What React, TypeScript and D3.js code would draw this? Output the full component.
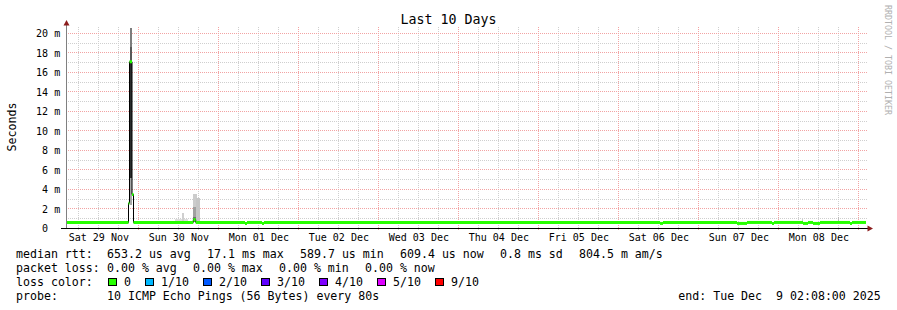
import React from "react";
import * as d3 from "d3";

const W = 897;
const H = 310;

const titleText = "Last 10 Days";
const yAxisTitle = "Seconds";
const watermark = "RRDTOOL / TOBI OETIKER";
const startTime = "2025-11-29T02:08:00Z";
const endTime = "2025-12-09T02:08:00Z";

// y ticks in ms
const yTicks = [0, 2, 4, 6, 8, 10, 12, 14, 16, 18, 20];
const yMinor = [1, 3, 5, 7, 9, 11, 13, 15, 17, 19];

// median rtt step series (ms)
const medianTimes = [
  "2025-11-29T02:08Z", "2025-11-29T20:53Z", "2025-11-29T21:11Z", "2025-11-29T21:56Z", "2025-11-29T22:23Z",
  "2025-11-30T16:19Z", "2025-11-30T17:03Z",
  "2025-12-01T07:50Z", "2025-12-01T08:26Z", "2025-12-01T12:56Z", "2025-12-01T13:32Z",
  "2025-12-06T12:20Z", "2025-12-06T13:14Z",
  "2025-12-07T11:26Z", "2025-12-07T14:26Z", "2025-12-07T21:56Z", "2025-12-07T22:32Z",
  "2025-12-08T07:14Z", "2025-12-08T08:44Z", "2025-12-08T10:14Z", "2025-12-08T12:20Z",
  "2025-12-08T21:20Z", "2025-12-08T21:56Z", "2025-12-09T02:08Z",
];
const medianMs = [
  0.62, 2.6, 17.1, 3.5, 0.62,
  0.9, 0.62,
  0.52, 0.62, 0.52, 0.62,
  0.52, 0.62,
  0.52, 0.62, 0.52, 0.62,
  0.52, 0.62, 0.52, 0.62,
  0.52, 0.62, 0.62,
];

// smoke bands: [from, to, low ms, high ms, shade]
const smokeBands: [string, string, number, number, string][] = [
  ["2025-11-29T20:53Z", "2025-11-29T21:11Z", 2.6, 4.0, "#bdbdbd"],
  ["2025-11-29T21:11Z", "2025-11-29T21:56Z", 18.6, 20.6, "#7d7d7d"],
  ["2025-11-29T21:11Z", "2025-11-29T21:56Z", 17.1, 18.6, "#595959"],
  ["2025-11-29T21:11Z", "2025-11-29T21:56Z", 5.2, 17.1, "#2c2c2c"],
  ["2025-11-29T21:11Z", "2025-11-29T21:56Z", 2.4, 5.2, "#a8a8a8"],
  ["2025-11-30T10:50Z", "2025-11-30T14:44Z", 0.62, 1.0, "#dddddd"],
  ["2025-11-30T12:51Z", "2025-11-30T13:27Z", 0.62, 1.6, "#cfcfcf"],
  ["2025-11-30T16:19Z", "2025-11-30T17:26Z", 0.7, 3.5, "#cccccc"],
  ["2025-11-30T17:03Z", "2025-11-30T18:15Z", 0.7, 3.1, "#c6c6c6"],
  ["2025-11-30T16:19Z", "2025-11-30T17:03Z", 1.2, 2.2, "#a0a0a0"],
  ["2025-11-30T16:19Z", "2025-11-30T17:03Z", 0.7, 1.2, "#707070"],
  ["2025-12-06T04:50Z", "2025-12-06T05:08Z", 0.62, 0.8, "#cccccc"],
  ["2025-12-08T06:51Z", "2025-12-08T07:09Z", 0.62, 1.0, "#cccccc"],
  ["2025-12-08T17:44Z", "2025-12-08T18:02Z", 0.62, 1.2, "#bbbbbb"],
];

const rttLabel = "median rtt:";
const rttStats = ["653.2 us avg", "17.1 ms max", "589.7 us min", "609.4 us now", "0.8 ms sd", "804.5 m am/s"];
const lossLabel = "packet loss:";
const lossStats = ["0.00 % avg", "0.00 % max", "0.00 % min", "0.00 % now"];
const lossColorLabel = "loss color:";
const lossLabels = ["0", "1/10", "2/10", "3/10", "4/10", "5/10", "9/10"];
const lossColors = ["#26ff00", "#00b8ff", "#0059ff", "#5e00ff", "#7e00ff", "#dd00ff", "#ff0000"];
const probeLabel = "probe:";
const probeText = "10 ICMP Echo Pings (56 Bytes) every 80s";
const endText = "end: Tue Dec  9 02:08:00 2025";

const MONO = "'DejaVu Sans Mono', monospace";
const CH = 7; // legend char advance

export default function App() {
  const start = new Date(startTime);
  const end = new Date(endTime);
  const x = d3.scaleUtc().domain([start, end]).range([66, 866]);
  const y = d3.scaleLinear().domain([0, 20.6]).range([228.5, 27.65]);

  const gx = (d: Date) => Math.floor(x(d)) + 0.5;
  const gy = (v: number) => Math.floor(y(v) - 0.1) + 0.5;

  const sixHours = d3.utcHour.every(6)!.range(start, end);
  const minorX = sixHours.filter((d) => d.getUTCHours() !== 0);
  const majorX = d3.utcDay.range(start, end);
  const labelDays = d3.utcDay
    .range(d3.utcDay.floor(start), end)
    .map((d) => d3.utcHour.offset(d, 12))
    .filter((d) => d > start && d < end);
  const fmt = d3.utcFormat("%a %d %b");

  const pts: [Date, number][] = medianTimes.map((t, i) => [new Date(t), medianMs[i]]);
  const stepLine = d3
    .line<[Date, number]>()
    .x((d) => x(d[0]))
    .y((d) => y(d[1]))
    .curve(d3.curveStepAfter);

  const plotL = 66;
  const plotR = 868;
  const gridTop = 27;
  const gridBot = 231;

  // legend positions
  const valX0 = 16 + 13 * CH;
  const rttXs: number[] = [];
  {
    let cx = valX0;
    rttStats.forEach((s) => {
      rttXs.push(cx);
      cx += s.length * CH + 16;
    });
  }
  const lossXs: number[] = [];
  {
    let cx = valX0;
    lossStats.forEach((s) => {
      lossXs.push(cx);
      cx += s.length * CH + 16;
    });
  }
  const colXs: number[] = [];
  {
    let cx = valX0;
    lossLabels.forEach((s) => {
      colXs.push(cx);
      cx += 17 + s.length * CH + 13;
    });
  }

  return (
    <svg
      width={W}
      height={H}
      viewBox={`0 0 ${W} ${H}`}
      style={{ position: "absolute", left: 0, top: 0, background: "#fff", display: "block" }}
      fontFamily={MONO}
    >
      <rect x={0} y={0} width={W} height={H} fill="#ffffff" />

      {/* grid */}
      <g shapeRendering="crispEdges" strokeWidth={1} strokeDasharray="1,1">
        {yMinor.map((v) => (
          <line key={"hm" + v} x1={plotL} x2={plotR} y1={gy(v)} y2={gy(v)} stroke="#cfcfcf" />
        ))}
        {minorX.map((d, i) => (
          <line key={"vm" + i} x1={gx(d)} x2={gx(d)} y1={gridTop} y2={gridBot} stroke="#cfcfcf" />
        ))}
        {yTicks.filter((v) => v > 0).map((v) => (
          <line key={"hM" + v} x1={plotL} x2={plotR} y1={gy(v)} y2={gy(v)} stroke="#f2a3a3" />
        ))}
        {majorX.map((d, i) => (
          <line key={"vM" + i} x1={gx(d)} x2={gx(d)} y1={gridTop} y2={gridBot} stroke="#f2a3a3" />
        ))}
      </g>

      {/* smoke */}
      <g shapeRendering="crispEdges">
        {smokeBands.map(([a, b, lo, hi, c], i) => (
          <rect
            key={"s" + i}
            x={x(new Date(a))}
            width={x(new Date(b)) - x(new Date(a))}
            y={y(hi)}
            height={y(lo) - y(hi)}
            fill={c}
          />
        ))}
      </g>

      {/* median */}
      <path d={stepLine(pts) || ""} fill="none" stroke="#000" strokeWidth={1} />
      <g>
        {pts.slice(0, -1).map((p, i) => (
          <line
            key={"g" + i}
            x1={x(p[0])}
            x2={x(pts[i + 1][0])}
            y1={y(p[1])}
            y2={y(p[1])}
            stroke={lossColors[0]}
            strokeWidth={3}
          />
        ))}
      </g>

      {/* axes */}
      <line x1={66.5} x2={66.5} y1={24} y2={228.5} stroke="#808080" strokeWidth={1} shapeRendering="crispEdges" />
      <line x1={61} x2={869} y1={228.5} y2={228.5} stroke="#000" strokeWidth={1} shapeRendering="crispEdges" />
      <polygon points="63.5,25.5 66.5,20 69.5,25.5" fill="#8b1c1c" />
      <polygon points="867.5,225.5 873,228.5 867.5,231.5" fill="#8b1c1c" />

      {/* y tick labels */}
      <g fontSize={10} fill="#000">
        {yTicks.map((v) => (
          <g key={"yl" + v}>
            <text x={48} y={y(v) + 3.6} textAnchor="end">
              {v}
            </text>
            {v > 0 && (
              <text x={54.2} y={y(v) + 3.6}>
                m
              </text>
            )}
          </g>
        ))}
      </g>

      {/* x labels */}
      <g fontSize={10} fill="#000">
        {labelDays.map((d, i) => (
          <text key={"xl" + i} x={x(d)} y={241} textAnchor="middle">
            {fmt(d)}
          </text>
        ))}
      </g>

      {/* title */}
      <text x={448.5} y={24} fontSize={13.3} textAnchor="middle" fill="#000">
        {titleText}
      </text>

      {/* y axis title */}
      <text transform="translate(15.5,127) rotate(-90)" fontSize={11.6} textAnchor="middle" fill="#000">
        {yAxisTitle}
      </text>

      {/* watermark */}
      <text transform="translate(884.5,5) rotate(90)" fontSize={8.3} fill="#b0b0b0">
        {watermark}
      </text>

      {/* legend */}
      <g fontSize={11.6} fill="#000" style={{ whiteSpace: "pre" }}>
        <text x={16} y={258.3}>{rttLabel}</text>
        {rttStats.map((s, i) => (
          <text key={"r" + i} x={rttXs[i]} y={258.3}>
            {s}
          </text>
        ))}
        <text x={16} y={272.2}>{lossLabel}</text>
        {lossStats.map((s, i) => (
          <text key={"l" + i} x={lossXs[i]} y={272.2}>
            {s}
          </text>
        ))}
        <text x={16} y={286}>{lossColorLabel}</text>
        {lossLabels.map((s, i) => (
          <g key={"c" + i}>
            <rect
              x={colXs[i] + 1.5}
              y={278.5}
              width={8}
              height={7}
              fill={lossColors[i]}
              stroke="#000"
              strokeWidth={1}
              shapeRendering="crispEdges"
            />
            <text x={colXs[i] + 17} y={286}>
              {s}
            </text>
          </g>
        ))}
        <text x={16} y={299.8}>{probeLabel}</text>
        <text x={valX0} y={299.8}>{probeText}</text>
        <text x={678.3} y={299.8} xmlSpace="preserve">
          {endText}
        </text>
      </g>
    </svg>
  );
}
